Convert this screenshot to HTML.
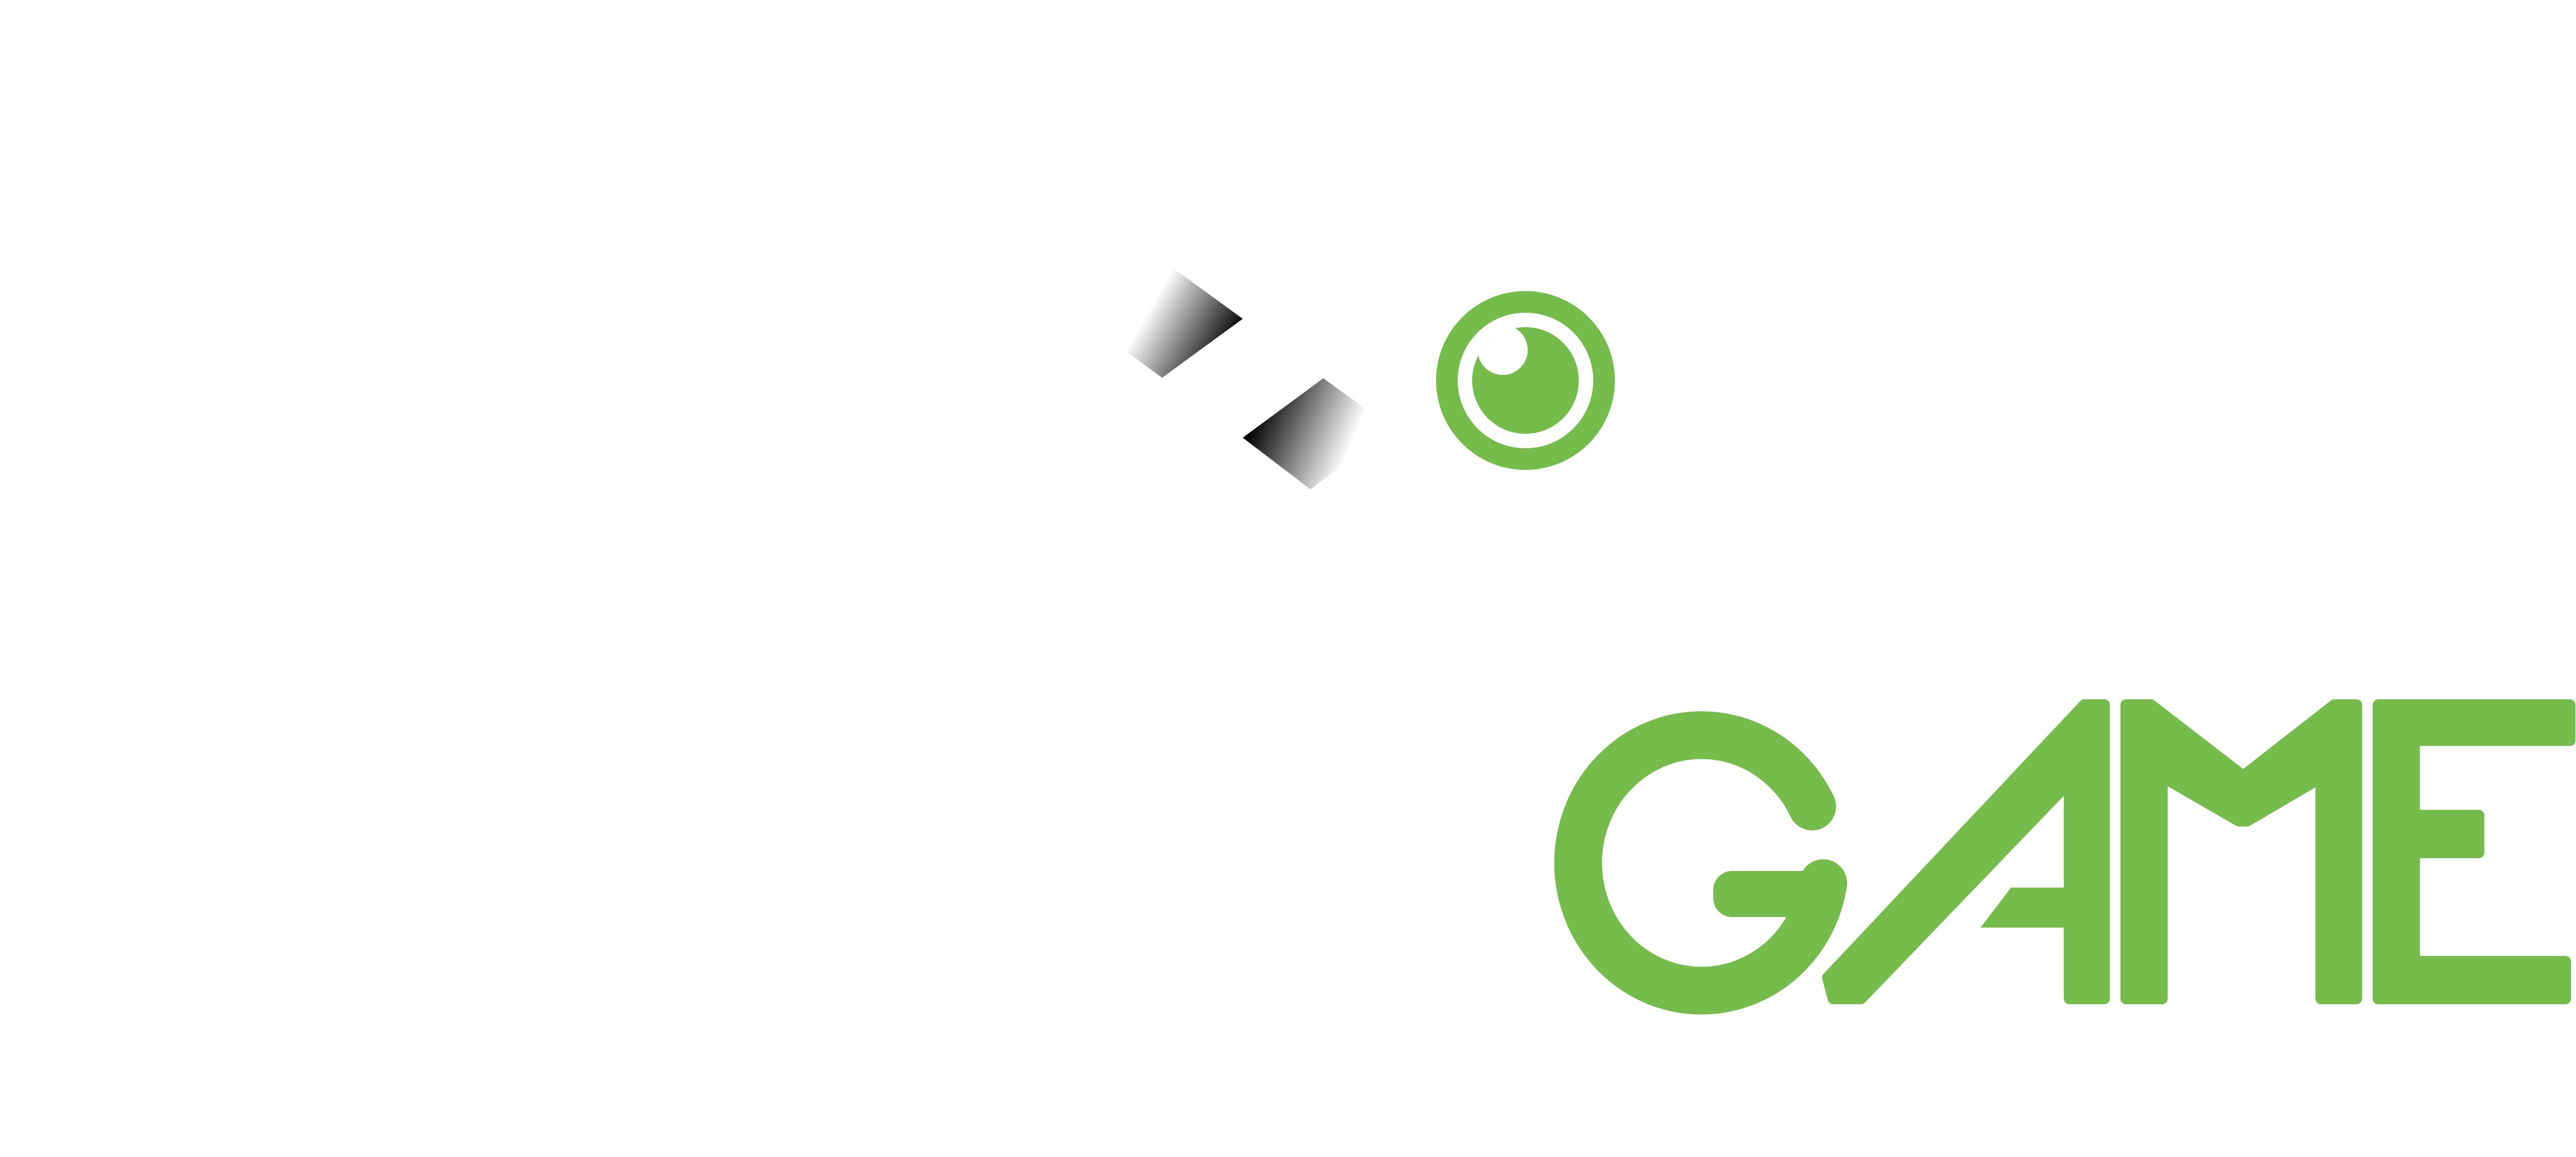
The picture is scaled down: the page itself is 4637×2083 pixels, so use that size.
<!DOCTYPE html>
<html><head><meta charset="utf-8"><style>
html,body{margin:0;padding:0;background:#fff;}
svg{display:block;}
</style></head><body>
<svg width="4637" height="2083" viewBox="0 0 4637 2083" xmlns="http://www.w3.org/2000/svg">
<defs>
<linearGradient id="g1" gradientUnits="userSpaceOnUse" x1="2075" y1="545" x2="2215" y2="625">
<stop offset="0" stop-color="#fff"/><stop offset="1" stop-color="#000"/></linearGradient>
<linearGradient id="g2" gradientUnits="userSpaceOnUse" x1="2255" y1="760" x2="2420" y2="830">
<stop offset="0" stop-color="#000"/><stop offset="1" stop-color="#fff"/></linearGradient>
<clipPath id="disc"><circle cx="2746" cy="685" r="96"/></clipPath>
</defs>
<rect width="4637" height="2083" fill="#fff"/>
<polygon points="2115,485 2237,574 2092,680 1970,591" fill="url(#g1)"/>
<polygon points="2382,681 2505,770 2359,881 2237,788" fill="url(#g2)"/>
<g>
<circle cx="2746" cy="685" r="161" fill="#76bc4d"/>
<circle cx="2746" cy="685" r="122" fill="#fff"/>
<circle cx="2746" cy="685" r="96" fill="#76bc4d"/>
<circle cx="2705" cy="630" r="45" fill="#fff" clip-path="url(#disc)"/>
</g>
<g fill="#76bc4d">
<path d="M3262,1452 A222,230 0 1 0 3282,1590" fill="none" stroke="#76bc4d" stroke-width="86" stroke-linecap="round"/>
<rect x="3084" y="1568" width="215" height="83" rx="34"/>
<polygon stroke="#76bc4d" stroke-width="20" stroke-linejoin="round" points="3290,1760 3752,1269 3788,1269 3788,1798 3725,1798 3725,1408 3350,1798 3300,1798"/>
<polygon points="3620,1598 3720,1598 3720,1670 3565,1670"/>
<polygon stroke="#76bc4d" stroke-width="20" stroke-linejoin="round" points="3827,1269 3872,1269 4038,1397 4202,1269 4242,1269 4242,1798 4178,1798 4178,1400 4045,1478 4030,1478 3892,1398 3892,1798 3827,1798"/>
<path stroke="#76bc4d" stroke-width="20" stroke-linejoin="round" d="M4281,1269 H4626 V1333 H4346 V1468 H4462 V1535 H4346 V1731 H4618 V1798 H4281 Z"/>
</g>
</svg>
</body></html>
